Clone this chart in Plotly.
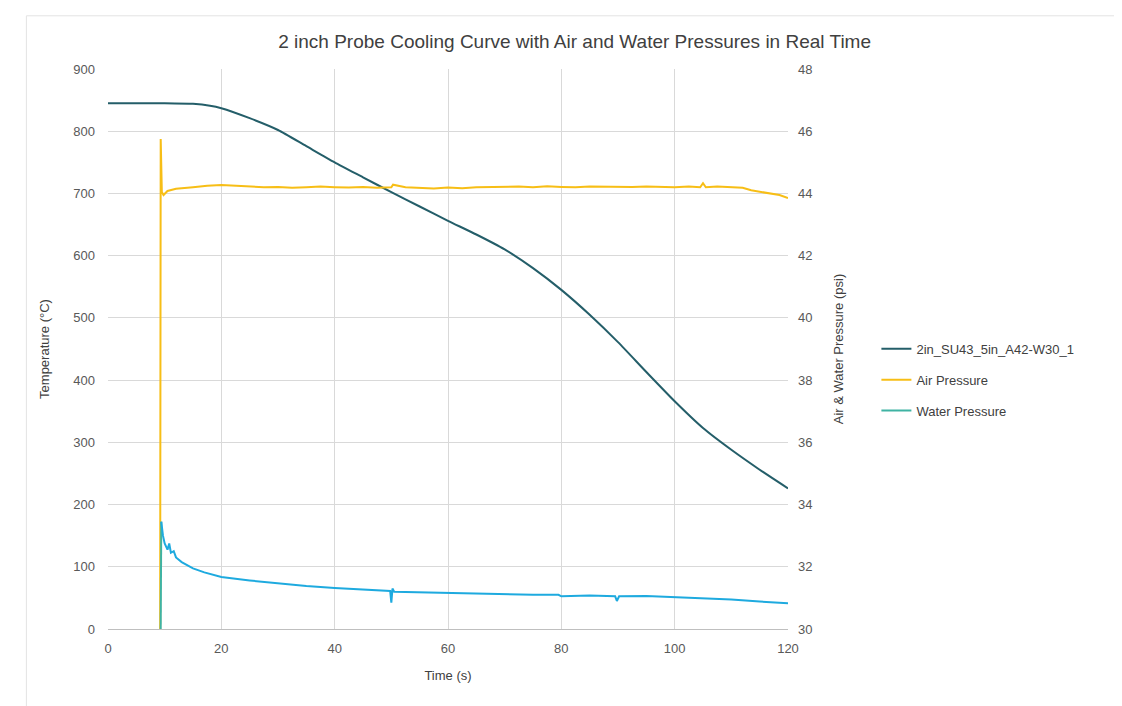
import plotly.graph_objects as go

# ---- data ----
time_temp = [0, 5, 10, 15, 18, 20, 25, 30, 35, 40, 45, 50, 55, 60, 65, 70, 75,
             80, 85, 90, 95, 100, 105, 110, 115, 120]
temp = [845, 845, 845, 844, 841, 837, 821, 802, 776, 750, 726, 702, 679, 656, 634, 610,
        580, 545, 505, 461, 413, 366, 323, 288, 256, 226]

time_air = [9.2, 9.3, 9.5, 9.8, 10.5, 12, 15, 17.5, 20, 22.5, 25, 27.5, 30, 32.5, 35, 37.5,
            40, 42.5, 45, 47.5, 50, 50.3, 52.5, 55, 57.5, 60, 62.5, 65, 67.5, 70, 72.5,
            75, 77.5, 80, 82.5, 85, 87.5, 90, 92.5, 95, 97.5, 100, 102.5, 104.5, 105,
            105.5, 107.5, 110, 112, 113.5, 115, 117, 118.5, 120]
air = [30.0, 45.75, 44.05, 43.95, 44.08, 44.15, 44.2, 44.25, 44.27, 44.24, 44.22, 44.2,
       44.21, 44.18, 44.2, 44.22, 44.2, 44.19, 44.21, 44.18, 44.2, 44.28, 44.2, 44.18,
       44.16, 44.19, 44.17, 44.2, 44.21, 44.2, 44.22, 44.2, 44.23, 44.21, 44.2, 44.22,
       44.21, 44.2, 44.21, 44.22, 44.21, 44.2, 44.22, 44.2, 44.33, 44.2, 44.22, 44.2,
       44.18, 44.1, 44.05, 44.0, 43.95, 43.85]

time_water_rise = [9.3, 9.4]
water_rise = [30.0, 33.45]

time_water = [9.4, 9.7, 10.0, 10.5, 10.8, 11.1, 11.6, 12, 13, 15, 17, 20, 25, 30, 35, 40,
              45, 49.8, 50.0, 50.2, 50.5, 55, 60, 65, 70, 75, 79.5, 80, 85, 89.5, 89.8,
              90.2, 95, 100, 105, 110, 115, 120]
water = [33.45, 33.0, 32.75, 32.55, 32.75, 32.45, 32.5, 32.3, 32.15, 31.95, 31.82, 31.67,
         31.56, 31.47, 31.38, 31.32, 31.28, 31.22, 30.85, 31.3, 31.2, 31.18, 31.16, 31.14,
         31.12, 31.1, 31.1, 31.05, 31.08, 31.05, 30.9, 31.05, 31.06, 31.02, 30.98, 30.95,
         30.88, 30.83]

series_names = ["2in_SU43_5in_A42-W30_1", "Air Pressure", "Water Pressure"]
title_text = "2 inch Probe Cooling Curve with Air and Water Pressures in Real Time"

TEMP_COLOR = "#245E69"
AIR_COLOR = "#F7BE16"
WATER_COLOR = "#1EAADF"
WATER_LEG_COLOR = "#3FB3A3"
FONT = "Liberation Sans"
TICK = "#595959"

fig = go.Figure()
fig.add_trace(go.Scatter(x=time_temp, y=temp, mode="lines", name=series_names[0],
                         line=dict(color=TEMP_COLOR, width=2, shape="spline", smoothing=0.6),
                         legendgroup="a"))
fig.add_trace(go.Scatter(x=time_air, y=air, mode="lines", name=series_names[1],
                         line=dict(color=AIR_COLOR, width=2), yaxis="y2", legendgroup="b"))
fig.add_trace(go.Scatter(x=time_water_rise, y=water_rise, mode="lines", name=series_names[2],
                         line=dict(color=WATER_LEG_COLOR, width=2), yaxis="y2", legendgroup="c"))
fig.add_trace(go.Scatter(x=time_water, y=water, mode="lines", name=series_names[2],
                         line=dict(color=WATER_COLOR, width=2), yaxis="y2", showlegend=False,
                         legendgroup="c"))

fig.update_layout(
    width=1122, height=706,
    margin=dict(l=100, r=342, t=61, b=85),
    paper_bgcolor="white", plot_bgcolor="white",
    font=dict(family=FONT, size=13, color=TICK),
    title=dict(text=title_text, x=0.505, xanchor="center", y=0.953, yanchor="middle",
               font=dict(family=FONT, size=19, color="#404040")),
    xaxis=dict(range=[0, 120], dtick=20, showgrid=True, gridcolor="#D9D9D9", gridwidth=1,
               zeroline=False, showline=True, linecolor="#BFBFBF", linewidth=1,
               ticks="", ticklabelstandoff=7, tickfont=dict(size=13, color=TICK),
               title=dict(text="Time (s)", font=dict(size=13, color="#404040"), standoff=16)),
    yaxis=dict(range=[0, 900], dtick=100, showgrid=True, gridcolor="#D9D9D9", gridwidth=1,
               zeroline=False, showline=False, ticks="", ticklabelstandoff=12,
               tickfont=dict(size=13, color=TICK),
               title=dict(text="Temperature (°C)", font=dict(size=13, color="#404040"),
                          standoff=20)),
    yaxis2=dict(range=[30, 48], dtick=2, overlaying="y", side="right", showgrid=False,
                zeroline=False, showline=False, ticks="", ticklabelstandoff=9,
                tickfont=dict(size=13, color=TICK),
                title=dict(text="Air & Water Pressure (psi)", font=dict(size=13, color="#404040"),
                           standoff=22)),
    legend=dict(x=1.13, xanchor="left", y=0.445, yanchor="middle", tracegroupgap=11,
                font=dict(size=13, color="#404040"), bgcolor="rgba(0,0,0,0)"),
    shapes=[dict(type="rect", xref="paper", yref="paper", x0=-0.12, x1=1.485,
                 y0=-0.14, y1=1.095, line=dict(color="#E3E3E3", width=1),
                 fillcolor="rgba(0,0,0,0)", layer="below")],
)

fig.write_html("out.html")
